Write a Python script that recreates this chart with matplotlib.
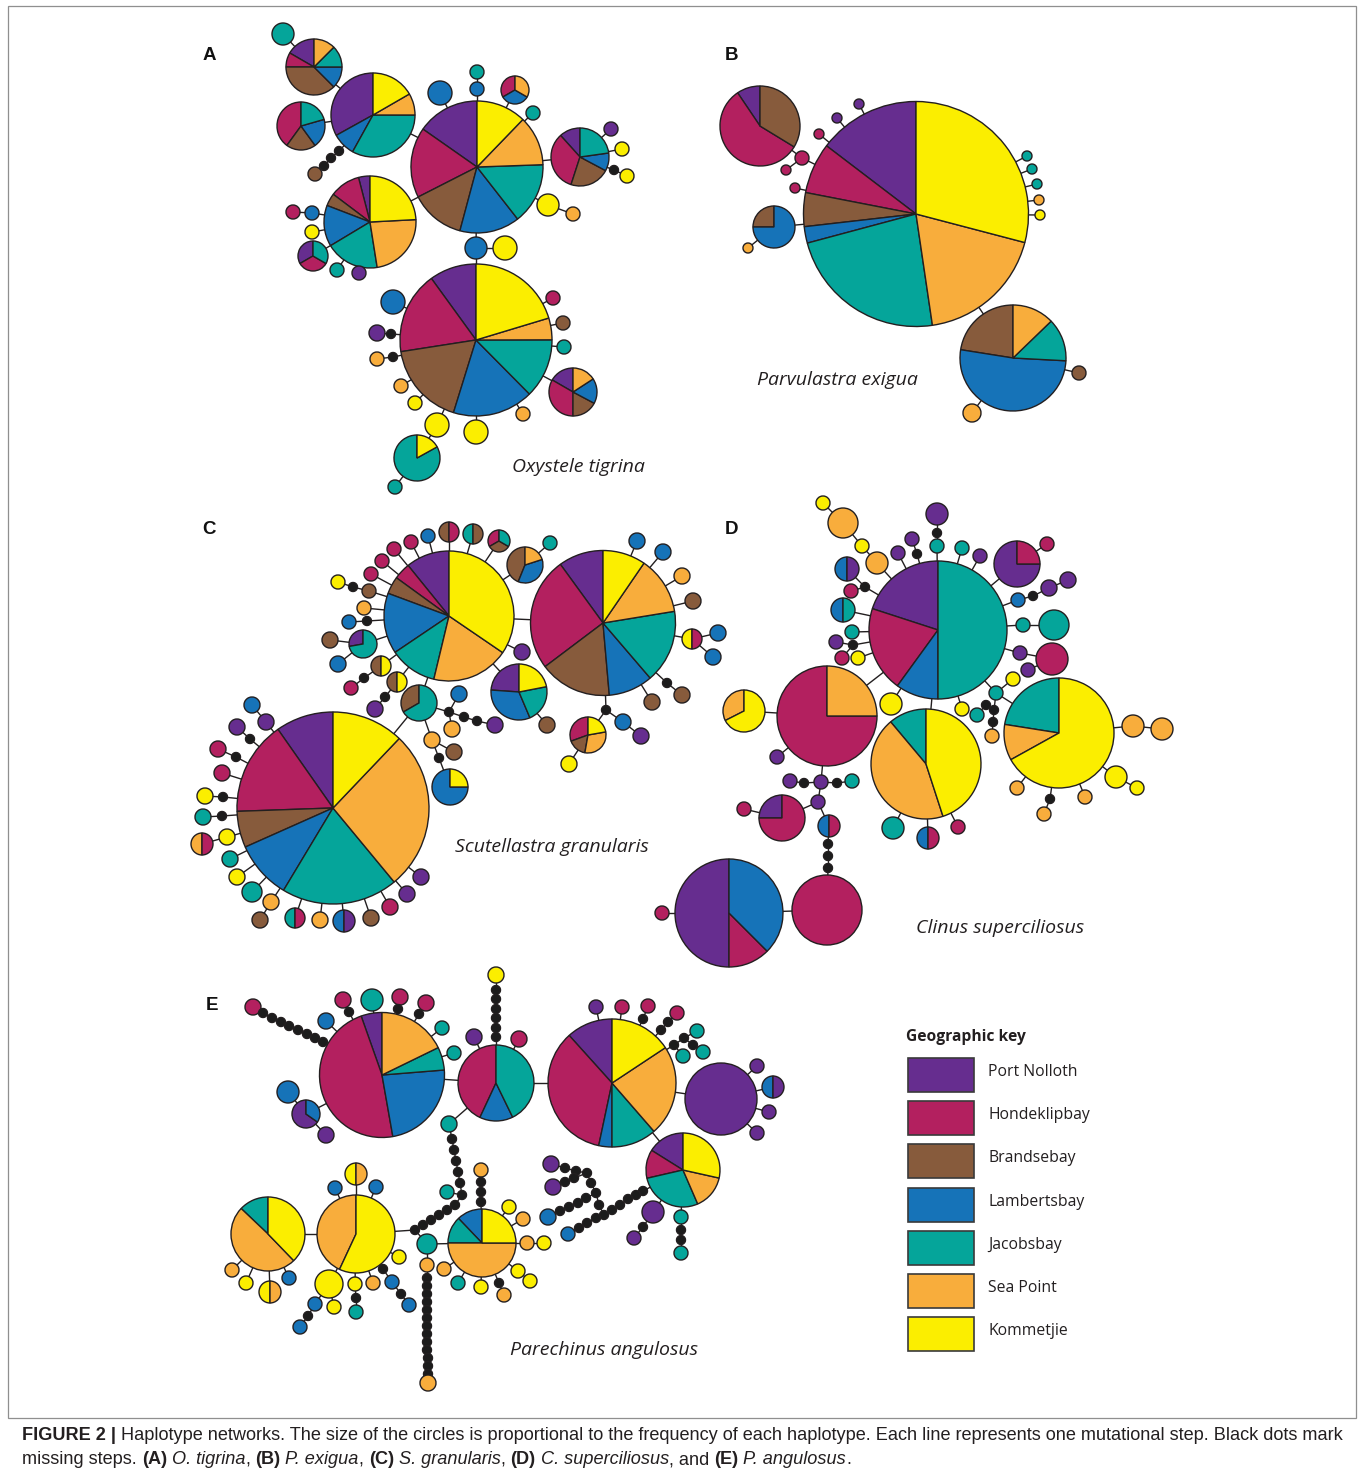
import matplotlib
matplotlib.use("Agg")
import matplotlib.pyplot as plt
from matplotlib.patches import Rectangle

W, H = 1362, 1479

# ---------------- data ----------------
sites = ["Port Nolloth", "Hondeklipbay", "Brandsebay", "Lambertsbay",
         "Jacobsbay", "Sea Point", "Kommetjie"]
site_codes = ["P", "H", "B", "L", "J", "S", "K"]
site_colors = ["#662d8f", "#b3205f", "#875b3c", "#1673b8",
               "#05a59a", "#f8ad3c", "#fbee00"]

panel_letters = ["A", "B", "C", "D", "E"]
species = ["Oxystele tigrina", "Parvulastra exigua", "Scutellastra granularis",
           "Clinus superciliosus", "Parechinus angulosus"]

# node: (x, y, radius, composition counter-clockwise from 12 o'clock; None = missing step)
A_nodes = {
    "tlt": (283, 34, 11, "J"), "tl": (314, 67, 28, "P4 H2 B9 L3 J3 S3"),
    "py": (373, 115, 42, "P119 L32 J119 S30 K60"), "l": (301, 126, 24, "H144 B72 L70 J74"),
    "c": (477, 167, 66, "P55 H62 B48 L53 J54 S44 K44"),
    "b1": (440, 93, 12, "L"), "t1": (477, 72, 7, "J"), "b2": (477, 89, 7, "L"),
    "p3": (515, 90, 14, "H1 L1 S1"), "t2": (533, 113, 7, "J"),
    "r": (580, 157, 29, "P42 H120 B80 L36 J82"),
    "rp": (611, 129, 7, "P"), "ry1": (622, 149, 7, "K"), "rd": (614, 170, 4.5, None), "ry2": (627, 176, 7, "K"),
    "y1": (548, 205, 11, "K"), "o1": (573, 214, 7, "S"),
    "br": (315, 174, 7, "B"), "d1": (324, 166, 4.5, None), "d2": (331, 158, 4.5, None), "d3": (339, 151, 4.5, None),
    "ll": (370, 222, 46, "P14.5 H38.5 B16 L52 J68 S84 K87"),
    "m1": (293, 212, 7, "H"), "b3": (312, 213, 7, "L"), "y2": (312, 232, 7, "K"),
    "s3": (313, 256, 15, "P1 H1 J1"), "t3": (337, 270, 7, "J"), "p4": (359, 273, 7, "P"),
    "b4": (476, 248, 11, "L"), "y3": (505, 248, 12, "K"),
    "low": (476, 340, 76, "P36 H63 B64 L62 J45.5 S16.7 K73.3"),
    "lm": (553, 298, 7, "H"), "lb": (563, 323, 7, "B"), "lt": (564, 347, 7, "J"),
    "ls": (573, 392, 24, "P60 H120 B62 L61 S57"),
    "lb2": (393, 302, 12, "L"), "lp": (377, 333, 8, "P"), "ld1": (391, 334, 4.5, None),
    "lo": (377, 359, 7, "S"), "ld2": (393, 357, 4.5, None),
    "lo2": (401, 386, 7, "S"), "ly": (415, 403, 7, "K"), "lo3": (523, 414, 7, "S"),
    "ly2": (437, 425, 12, "K"), "ly3": (476, 432, 12, "K"),
    "tp": (417, 458, 23, "J299 K61"), "tt": (395, 487, 7, "J"),
}
A_paths = [
    ("tlt", "tl", "py", "c"), ("l", "py"), ("br", "d1", "d2", "d3", "py"),
    ("b1", "c"), ("t1", "b2", "c"), ("p3", "c"), ("t2", "c"), ("r", "c"),
    ("rp", "r"), ("ry1", "r"), ("ry2", "rd", "r"), ("o1", "y1", "c"), ("ll", "c"),
    ("m1", "b3", "ll"), ("y2", "ll"), ("s3", "ll"), ("t3", "ll"), ("p4", "ll"),
    ("c", "b4", "low"), ("y3", "b4"),
    ("lm", "low"), ("lb", "low"), ("lt", "low"), ("ls", "low"), ("lb2", "low"),
    ("lp", "ld1", "low"), ("lo", "ld2", "low"), ("lo2", "low"), ("ly", "low"), ("lo3", "low"),
    ("tt", "tp", "ly2", "low"), ("ly3", "low"),
]

B_nodes = {
    "c": (916, 214, 112.5, "P52.7 H26.3 B17.5 L8.5 J83.4 S66.9 K104.7"),
    "tl": (760, 126, 40, "P34 H204.6 B121.4"),
    "p1": (859, 104, 5, "P"), "p2": (837, 118, 5, "P"), "m1": (819, 134, 5, "H"),
    "m2": (802, 158, 7, "H"), "m3": (786, 170, 5, "H"), "m4": (795, 188, 5, "H"),
    "bp": (774, 227, 21, "B1 L3"), "o1": (748, 248, 5, "S"),
    "t1": (1027, 156, 5, "J"), "t2": (1032, 169, 5, "J"), "t3": (1037, 184, 5, "J"),
    "o2": (1039, 200, 5, "S"), "y1": (1040, 215, 5, "K"),
    "lo": (1013, 358, 53, "B81 L186 J47 S46"),
    "lb": (1079, 373, 7, "B"), "lo2": (972, 413, 9, "S"),
}
B_paths = [
    ("tl", "m2", "c"), ("m3", "m2"), ("p1", "c"), ("p2", "c"), ("m1", "c"), ("m4", "c"),
    ("o1", "bp", "c"), ("t1", "c"), ("t2", "c"), ("t3", "c"), ("o2", "c"), ("y1", "c"),
    ("c", "lo"), ("lb", "lo"), ("lo2", "lo"),
]

C_nodes = {
    "c1": (449, 616, 65, "P39 H15 B15.6 L54.4 J42.5 S69.2 K124.3"),
    "c2": (603, 623, 72.5, "P36 H91 B58 L35.6 J58.7 S46.3 K34.4"),
    "c3": (333, 808, 96, "P35 H57 B22 L35 J70.6 S96.8 K43.6"),
    "a1": (382, 561, 7, "H"), "a2": (394, 549, 7, "H"), "a3": (411, 542, 7, "H"), "a4": (428, 536, 7, "L"),
    "a5": (449, 532, 10, "B1 H1"), "a6": (473, 534, 10, "J1 B1"), "a7": (499, 541, 11, "H1 B1 J1"),
    "a8": (525, 565, 18, "B158 L130 S72"), "a9": (550, 543, 7, "J"),
    "a10": (371, 574, 7, "H"), "a11": (338, 582, 7, "K"), "x1": (353, 587, 4.5, None), "a12": (369, 591, 7, "B"),
    "a13": (364, 608, 7, "S"), "a14": (349, 622, 7, "L"), "x2": (367, 621, 4.5, None),
    "a15": (363, 644, 14, "P100 J260"), "a16": (330, 640, 8, "B"), "a17": (338, 664, 8, "L"),
    "a18": (381, 666, 10, "B1 K1"), "x3": (364, 678, 4.5, None), "a19": (351, 688, 7, "H"),
    "a20": (397, 682, 10, "B1 K1"), "x4": (385, 697, 4.5, None), "a21": (375, 709, 8, "P"),
    "a22": (419, 703, 18, "B120 J240"),
    "a23": (459, 694, 8, "L"), "x5": (449, 712, 4.5, None), "x6": (464, 717, 4.5, None),
    "x7": (477, 721, 4.5, None), "a24": (495, 725, 8, "P"), "a25": (452, 729, 8, "S"),
    "a26": (432, 740, 8, "S"), "a27": (454, 752, 8, "B"), "x8": (439, 758, 4.5, None),
    "a28": (450, 787, 18, "L3 K1"),
    "a29": (522, 652, 8, "P"), "a30": (519, 692, 28, "P86 L117 J78 K79"), "a31": (547, 725, 8, "B"),
    "a32": (588, 735, 18, "H110 B60 S110 K80"), "x9": (606, 710, 4.5, None),
    "a33": (623, 722, 8, "L"), "a34": (641, 736, 8, "P"), "a35": (569, 764, 8, "K"),
    "b1": (637, 541, 8, "L"), "b2": (663, 552, 8, "L"), "b3": (682, 576, 8, "S"), "b4": (693, 601, 8, "B"),
    "b5": (692, 639, 10, "K1 H1"), "b6": (718, 633, 8, "L"), "b7": (713, 657, 8, "L"),
    "x10": (667, 683, 4.5, None), "b8": (682, 695, 8, "B"), "b9": (652, 702, 8, "B"),
    "e1": (252, 705, 8, "L"), "e2": (266, 722, 8, "P"),
    "e3": (237, 727, 8, "P"), "x11": (250, 739, 4.5, None),
    "e4": (218, 749, 8, "H"), "x12": (236, 757, 4.5, None), "e5": (222, 773, 8, "H"),
    "e6": (205, 796, 8, "K"), "x13": (223, 797, 4.5, None),
    "e7": (203, 817, 8, "J"), "x14": (222, 816, 4.5, None),
    "e8": (202, 844, 11, "S1 H1"), "e9": (227, 837, 8, "K"),
    "e10": (230, 859, 8, "J"), "e11": (237, 877, 8, "K"), "e12": (252, 892, 10, "J"),
    "e13": (271, 902, 8, "S"), "e14": (260, 920, 8, "B"),
    "e15": (295, 918, 10, "J1 H1"), "e16": (320, 920, 8, "S"), "e17": (344, 921, 11, "L1 P1"),
    "e18": (371, 918, 8, "B"), "e19": (390, 907, 8, "H"), "e20": (407, 894, 8, "P"), "e21": (421, 877, 8, "P"),
}
C_paths = [
    ("c1", "c2"), ("c3", "a22", "c1"),
    ("a1", "c1"), ("a2", "c1"), ("a3", "c1"), ("a4", "c1"), ("a5", "c1"), ("a6", "c1"), ("a7", "c1"),
    ("a9", "a8", "c1"), ("a10", "c1"), ("a11", "x1", "a12", "c1"), ("a13", "c1"), ("a14", "x2", "c1"),
    ("a16", "a15", "c1"), ("a17", "a15"), ("a19", "x3", "a18", "c1"), ("a21", "x4", "a20", "c1"),
    ("a22", "x5", "x6", "x7", "a24"), ("a23", "x5"), ("a25", "x5"),
    ("a22", "a26", "x8", "a28"), ("a26", "a27"),
    ("a29", "c1"), ("a30", "c1"), ("a31", "a30"),
    ("c2", "x9", "a32"), ("x9", "a33", "a34"), ("a35", "a32"),
    ("b1", "c2"), ("b2", "c2"), ("b3", "c2"), ("b4", "c2"), ("b5", "c2"), ("b6", "b5"), ("b7", "b5"),
    ("c2", "x10", "b8"), ("b9", "c2"),
    ("e1", "e2", "c3"), ("e3", "x11", "c3"), ("e4", "x12", "c3"), ("e5", "c3"), ("e6", "x13", "c3"),
    ("e7", "x14", "c3"), ("e8", "e9", "c3"), ("e10", "c3"), ("e11", "c3"), ("e12", "c3"),
    ("e14", "e13", "c3"), ("e15", "c3"), ("e16", "c3"), ("e17", "c3"), ("e18", "c3"), ("e19", "c3"),
    ("e20", "c3"), ("e21", "c3"),
]

D_nodes = {
    "d1": (938, 630, 69, "P72 H72 L36 J180"),
    "d2": (827, 716, 50, "H270 S90"),
    "d3": (926, 764, 55, "J40 S158 K162"),
    "d4": (1059, 733, 55, "J81 S38 K241"),
    "d5": (1017, 564, 23, "P270 H90"),
    "d6": (729, 913, 54, "P180 H45 L135"),
    "d7": (827, 910, 35, "H"),
    "oy": (744, 711, 21, "S117 K243"),
    "n1": (823, 503, 7, "K"), "n2": (843, 523, 15, "S"), "n3": (862, 546, 7, "K"), "n4": (877, 563, 11, "S"),
    "n5": (898, 553, 7, "P"), "n6": (912, 539, 7, "P"), "x1": (917, 554, 4.5, None),
    "n7": (937, 514, 11, "P"), "x2": (937, 533, 4.5, None), "n8": (937, 546, 7, "J"),
    "n9": (962, 548, 7, "J"), "n10": (980, 556, 7, "P"), "n11": (1047, 544, 7, "H"),
    "n12": (1068, 580, 8, "P"), "n13": (1049, 588, 8, "P"), "x3": (1033, 596, 4.5, None), "n14": (1018, 600, 7, "L"),
    "n15": (1023, 625, 7, "J"), "n16": (1054, 625, 15, "J"),
    "n17": (1020, 653, 7, "P"), "n18": (1052, 659, 16, "H"), "n19": (1028, 670, 7, "P"),
    "n20": (843, 610, 12, "L1 J1"), "n21": (847, 569, 12, "L1 P1"), "x4": (865, 587, 4.5, None),
    "n22": (851, 591, 7, "H"), "n23": (852, 632, 7, "J"),
    "n24": (836, 642, 7, "P"), "x5": (853, 645, 4.5, None), "n25": (842, 658, 7, "H"), "n26": (858, 658, 7, "K"),
    "n27": (891, 704, 11, "K"), "n28": (962, 709, 7, "K"),
    "n29": (977, 715, 7, "J"), "x6": (986, 705, 4.5, None), "x7": (994, 710, 4.5, None),
    "x8": (993, 722, 4.5, None), "n30": (992, 736, 7, "S"),
    "n31": (996, 693, 7, "J"), "n32": (1013, 679, 7, "K"),
    "n33": (1133, 726, 11, "S"), "n34": (1162, 729, 11, "S"),
    "n35": (777, 757, 7, "P"),
    "n36": (790, 781, 7, "P"), "x9": (804, 783, 4.5, None), "n37": (821, 782, 7, "P"),
    "x10": (837, 783, 4.5, None), "n38": (852, 781, 7, "J"),
    "n39": (818, 802, 7, "P"), "n40": (782, 818, 23, "P90 H270"), "n41": (744, 809, 7, "H"),
    "n42": (829, 826, 11, "L1 H1"),
    "x11": (828, 844, 4.5, None), "x12": (828, 856, 4.5, None), "x13": (828, 868, 4.5, None),
    "n43": (662, 913, 7, "H"),
    "n44": (893, 828, 11, "J"), "n45": (928, 838, 11, "L1 H1"), "n46": (958, 827, 7, "H"),
    "n47": (1017, 788, 7, "S"), "x14": (1050, 799, 4.5, None), "n48": (1044, 814, 7, "S"),
    "n49": (1085, 797, 7, "S"), "n50": (1116, 777, 11, "K"), "n51": (1137, 788, 7, "K"),
}
D_paths = [
    ("n1", "n2", "n3", "n4", "d1"), ("n5", "d1"), ("n6", "x1", "d1"), ("n7", "x2", "n8", "d1"),
    ("n9", "d1"), ("n10", "d1"), ("n11", "d5", "d1"), ("n12", "n13", "x3", "n14", "d1"),
    ("n16", "n15", "d1"), ("d1", "n17", "n18"), ("n19", "n18"),
    ("n20", "d1"), ("n21", "x4", "d1"), ("n22", "x4"), ("n23", "d1"), ("n24", "x5", "d1"), ("n25", "x5"),
    ("n26", "d1"), ("d2", "d1"), ("n27", "d1"), ("d3", "d1"), ("n28", "d1"),
    ("d1", "n31", "d4"), ("n32", "n31"), ("n31", "x7", "x8", "n30"), ("x7", "x6", "n29"),
    ("d4", "n33", "n34"), ("oy", "d2"), ("n35", "d2"),
    ("d2", "n37"), ("n36", "x9", "n37", "x10", "n38"), ("n37", "n39", "n40"), ("n41", "n40"),
    ("n39", "n42", "x11", "x12", "x13", "d7"), ("d6", "d7"), ("n43", "d6"),
    ("n44", "d3"), ("n45", "d3"), ("n46", "d3"),
    ("n47", "d4"), ("n48", "x14", "d4"), ("n49", "d4"), ("n51", "n50", "d4"),
]

E_nodes = {
    "e1": (382, 1075, 62.5, "P19.5 H170.5 L84.6 J21.4 S64"),
    "e2": (496, 1083, 38, "H155 L51 J154"),
    "e3": (612, 1083, 64, "P42 H126 L12 J41 S82.5 K56.5"),
    "e4": (721, 1099, 36, "P"),
    "e5": (683, 1170, 37, "P58 H45 J100.5 S54 K102.6"),
    "e6": (268, 1234, 37, "J46.5 S177.5 K136"),
    "e7": (356, 1234, 39, "S155 K205"),
    "e8": (482, 1243, 34, "L43.7 J46.3 S180 K90"),
    # around e1
    "m1": (253, 1007, 8, "H"),
    "k1": (263, 1013, 4.5, None), "k2": (272, 1018, 4.5, None), "k3": (281, 1022, 4.5, None),
    "k4": (289, 1026, 4.5, None), "k5": (298, 1030, 4.5, None), "k6": (307, 1034, 4.5, None),
    "k7": (315, 1038, 4.5, None), "k8": (323, 1042, 4.5, None),
    "b1": (326, 1021, 8, "L"), "m2": (343, 1000, 8, "H"), "k9": (349, 1012, 4.5, None),
    "t1": (372, 1000, 11, "J"), "m3": (400, 997, 8, "H"), "k10": (398, 1009, 4.5, None),
    "m4": (426, 1003, 8, "H"), "k11": (419, 1014, 4.5, None),
    "t2": (442, 1028, 7, "J"), "t3": (454, 1053, 7, "J"),
    "b2": (288, 1092, 11, "L"), "pb": (306, 1114, 14, "P235 L125"), "p1": (326, 1135, 8, "P"),
    # around e2
    "y1": (496, 975, 8, "K"),
    "k12": (496, 990, 4.5, None), "k13": (496, 999, 4.5, None), "k14": (496, 1009, 4.5, None),
    "k15": (496, 1018, 4.5, None), "k16": (496, 1028, 4.5, None), "k17": (496, 1037, 4.5, None),
    "p2": (474, 1037, 8, "P"), "m5": (519, 1039, 8, "H"),
    "t4": (449, 1124, 8, "J"),
    "k18": (452, 1139, 4.5, None), "k19": (454, 1150, 4.5, None), "k20": (456, 1161, 4.5, None),
    "k21": (458, 1172, 4.5, None), "k22": (460, 1183, 4.5, None), "k23": (462, 1195, 4.5, None),
    "k24": (455, 1205, 4.5, None), "k25": (447, 1210, 4.5, None), "k26": (439, 1215, 4.5, None),
    "k27": (431, 1220, 4.5, None), "k28": (423, 1225, 4.5, None), "k29": (415, 1230, 4.5, None),
    "t5": (447, 1192, 7, "J"),
    "t6": (427, 1244, 10, "J"), "o1": (427, 1265, 7, "S"),
    "k30": (427, 1278, 4.5, None), "k31": (427, 1286, 4.5, None), "k32": (427, 1294, 4.5, None),
    "k33": (427, 1302, 4.5, None), "k34": (427, 1310, 4.5, None), "k35": (427, 1318, 4.5, None),
    "k36": (427, 1326, 4.5, None), "k37": (427, 1334, 4.5, None), "k38": (427, 1342, 4.5, None),
    "k39": (427, 1350, 4.5, None), "k40": (428, 1358, 4.5, None), "k41": (428, 1366, 4.5, None),
    "k42": (428, 1374, 4.5, None),
    "o2": (428, 1383, 8, "S"),
    # around e8
    "o3": (481, 1170, 7, "S"), "k43": (481, 1182, 4.5, None), "k44": (481, 1192, 4.5, None),
    "k45": (481, 1202, 4.5, None),
    "y2": (509, 1207, 7, "K"), "o4": (523, 1219, 7, "S"), "o5": (527, 1243, 7, "S"), "y3": (544, 1243, 7, "K"),
    "o6": (444, 1269, 7, "S"), "t7": (458, 1283, 7, "J"), "y4": (481, 1287, 7, "K"),
    "k46": (499, 1283, 4.5, None), "o7": (504, 1295, 7, "S"), "y5": (518, 1271, 7, "K"), "y6": (530, 1281, 7, "K"),
    # around e6 / e7
    "o8": (232, 1270, 7, "S"), "y7": (246, 1283, 7, "K"), "hp": (270, 1292, 11, "K1 S1"), "b3": (289, 1278, 7, "L"),
    "hp2": (356, 1174, 11, "K1 S1"), "b4": (335, 1188, 7, "L"), "b5": (376, 1187, 7, "L"),
    "y8": (329, 1284, 14, "K"), "b6": (315, 1304, 7, "L"), "k47": (308, 1316, 4.5, None), "b7": (300, 1327, 7, "L"),
    "y9": (334, 1307, 7, "K"), "y10": (355, 1284, 7, "K"), "k48": (356, 1298, 4.5, None), "t8": (356, 1312, 7, "J"),
    "o9": (373, 1283, 7, "S"), "k49": (383, 1269, 4.5, None), "b8": (392, 1282, 7, "L"),
    "k50": (401, 1294, 4.5, None), "b9": (409, 1305, 7, "L"), "y11": (399, 1257, 7, "K"),
    # around e3 / e4
    "p3": (596, 1007, 7, "P"), "m6": (622, 1007, 7, "H"), "m7": (648, 1006, 7, "H"), "k51": (643, 1019, 4.5, None),
    "m8": (677, 1013, 7, "H"), "k52": (668, 1022, 4.5, None), "k53": (661, 1030, 4.5, None),
    "t9": (697, 1031, 7, "J"), "t10": (683, 1056, 7, "J"), "t11": (703, 1052, 7, "J"),
    "k54": (674, 1045, 4.5, None), "k55": (684, 1038, 4.5, None), "k56": (693, 1045, 4.5, None),
    "p4": (757, 1066, 7, "P"), "hp3": (773, 1087, 11, "L1 P1"), "p5": (769, 1112, 7, "P"), "p6": (757, 1133, 7, "P"),
    # around e5
    "p7": (653, 1212, 11, "P"), "k57": (643, 1227, 4.5, None), "p8": (634, 1238, 7, "P"),
    "t12": (681, 1217, 7, "J"), "k58": (681, 1230, 4.5, None), "k59": (681, 1240, 4.5, None), "t13": (681, 1253, 7, "J"),
    "k60": (643, 1191, 4.5, None), "k61": (636, 1195, 4.5, None), "k62": (628, 1199, 4.5, None),
    "k63": (620, 1205, 4.5, None), "k64": (612, 1210, 4.5, None), "k65": (604, 1215, 4.5, None),
    "k66": (596, 1218, 4.5, None), "k67": (587, 1223, 4.5, None), "k68": (579, 1228, 4.5, None),
    "b10": (568, 1234, 7, "L"),
    "p9": (551, 1164, 8, "P"), "k69": (565, 1168, 4.5, None), "k70": (576, 1171, 4.5, None),
    "k71": (587, 1173, 4.5, None), "k72": (591, 1183, 4.5, None), "k73": (596, 1193, 4.5, None),
    "k74": (599, 1205, 4.5, None),
    "p10": (553, 1187, 8, "P"), "k75": (565, 1182, 4.5, None), "k76": (574, 1178, 4.5, None),
    "b11": (548, 1217, 8, "L"), "k77": (560, 1211, 4.5, None), "k78": (569, 1207, 4.5, None),
    "k79": (578, 1203, 4.5, None), "k80": (586, 1198, 4.5, None),
}
E_paths = [
    ("e1", "e2", "e3", "e4"), ("e3", "e5"), ("e6", "e7"),
    ("m1", "k1", "k2", "k3", "k4", "k5", "k6", "k7", "k8", "e1"),
    ("b1", "e1"), ("m2", "k9", "e1"), ("t1", "e1"), ("m3", "k10", "e1"), ("m4", "k11", "e1"),
    ("t2", "e1"), ("t3", "e1"), ("b2", "pb", "e1"), ("p1", "pb"),
    ("y1", "k12", "k13", "k14", "k15", "k16", "k17", "e2"), ("p2", "e2"), ("m5", "e2"),
    ("e2", "t4", "k18", "k19", "k20", "k21", "k22", "k23", "k24", "k25", "k26", "k27", "k28", "k29", "e7"),
    ("t5", "k23"), ("k29", "t6", "e8"),
    ("t6", "o1", "k30", "k31", "k32", "k33", "k34", "k35", "k36", "k37", "k38", "k39", "k40", "k41", "k42", "o2"),
    ("o3", "k43", "k44", "k45", "e8"), ("y2", "e8"), ("o4", "e8"), ("y3", "o5", "e8"),
    ("o6", "e8"), ("t7", "e8"), ("y4", "e8"), ("o7", "k46", "e8"), ("y6", "y5", "e8"),
    ("o8", "e6"), ("y7", "e6"), ("hp", "e6"), ("b3", "e6"),
    ("hp2", "e7"), ("b4", "e7"), ("b5", "e7"),
    ("b7", "k47", "b6", "y8", "e7"), ("y9", "y8"), ("t8", "k48", "y10", "e7"), ("o9", "e7"),
    ("b9", "k50", "b8", "k49", "e7"), ("y11", "e7"),
    ("p3", "e3"), ("m6", "e3"), ("m7", "k51", "e3"), ("m8", "k52", "k53", "e3"),
    ("e3", "k54", "k55", "t9"), ("k54", "t10"), ("k55", "k56", "t11"),
    ("p4", "e4"), ("hp3", "e4"), ("p5", "e4"), ("p6", "e4"),
    ("p8", "k57", "p7", "e5"), ("t13", "k59", "k58", "t12", "e5"),
    ("e5", "k60", "k61", "k62", "k63", "k64", "k65", "k66", "k67", "k68", "b10"),
    ("p9", "k69", "k70", "k71", "k72", "k73", "k74", "k65"), ("p10", "k75", "k76", "k71"),
    ("b11", "k77", "k78", "k79", "k80", "k73"),
]

caption_line1 = [("FIGURE 2 |", "bold"),
                 ("Haplotype networks. The size of the circles is proportional to the frequency of each "
                  "haplotype. Each line represents one mutational step. Black dots mark", "normal")]
caption_line2 = [("missing steps.", "normal", True), ("(A)", "bold", True), ("O. tigrina", "italic", True),
                 (",", "normal", False), ("(B)", "bold", True), ("P. exigua", "italic", True),
                 (",", "normal", False), ("(C)", "bold", True), ("S. granularis", "italic", True),
                 (",", "normal", False), ("(D)", "bold", True), ("C. superciliosus", "italic", True),
                 (", and", "normal", False), ("(E)", "bold", True), ("P. angulosus", "italic", True),
                 (".", "normal", False)]

# ---------------- drawing ----------------
EDGE = "#231f20"
LW = 1.0
color_of = dict(zip(site_codes, site_colors))

fig = plt.figure(figsize=(W / 100, H / 100), dpi=100)
ax = fig.add_axes([0, 0, 1, 1])
ax.set_xlim(0, W)
ax.set_ylim(H, 0)
ax.axis("off")


def parse(comp):
    vals, cols = [], []
    for tok in comp.split():
        vals.append(float(tok[1:]) if len(tok) > 1 else 1.0)
        cols.append(color_of[tok[0]])
    return vals, cols


def draw_network(nodes, paths):
    for path in paths:
        for a, b in zip(path[:-1], path[1:]):
            xa, ya = nodes[a][:2]
            xb, yb = nodes[b][:2]
            ax.plot([xa, xb], [ya, yb], color=EDGE, lw=LW, zorder=2, solid_capstyle="butt")
    for name, (x, y, r, comp) in nodes.items():
        if comp is None:
            vals, cols = [1.0], ["#1c1c1c"]
        else:
            vals, cols = parse(comp)
        ax.pie(vals, colors=cols, startangle=-90, counterclock=False, center=(x, y), radius=r,
               frame=True, wedgeprops=dict(edgecolor=EDGE, linewidth=LW, zorder=3))


for nodes, paths in [(A_nodes, A_paths), (B_nodes, B_paths), (C_nodes, C_paths),
                     (D_nodes, D_paths), (E_nodes, E_paths)]:
    draw_network(nodes, paths)

ax.set_xlim(0, W)
ax.set_ylim(H, 0)
ax.set_aspect("auto")
ax.axis("off")

fig.canvas.draw()
renderer = fig.canvas.get_renderer()


def text_width(s, **kw):
    t = ax.text(0, 0, s, **kw)
    w = t.get_window_extent(renderer).width
    t.remove()
    return w


# panel letters
letter_pos = [(203, 55), (725, 55), (202, 530), (725, 530), (206, 1006)]
for lab, (x, y) in zip(panel_letters, letter_pos):
    ax.text(x, y, lab, fontsize=13.5, fontweight="bold", family="Liberation Sans",
            ha="left", va="center", color="#111111")

# species names
sp_font = dict(family="Open Sans", style="italic")
ref_w = text_width(species[0], fontsize=10, **sp_font)
sp_size = 10 * 133 / ref_w
species_pos = [(512, 467), (757, 380), (455, 847), (916, 928), (510, 1350)]
for name, (x, y) in zip(species, species_pos):
    ax.text(x, y, name, fontsize=sp_size, ha="left", va="center", color="#231f20", **sp_font)

# legend
key_font = "Open Sans"
tw = text_width("Geographic key", fontsize=10, family=key_font, fontweight="bold")
ax.text(906, 1037, "Geographic key", fontsize=10 * 120 / tw, family=key_font,
        fontweight="bold", ha="left", va="center", color="#231f20")
lw_ = text_width("Hondeklipbay", fontsize=10, family=key_font)
lab_size = 10 * 101 / lw_
for i, (name, col) in enumerate(zip(sites, site_colors)):
    y0 = 1058 + i * 43.2
    ax.add_patch(Rectangle((908, y0), 66, 34, facecolor=col, edgecolor="#3a3a3a", lw=1.2, zorder=3))
    ax.text(988, y0 + 14, name, fontsize=lab_size, family=key_font, ha="left", va="center",
            color="#231f20")

# frame
ax.add_patch(Rectangle((8, 6), 1348, 1412, fill=False, edgecolor="#8f8f8f", lw=0.9, zorder=1))

# caption
cap_font = "Liberation Sans"
styles = {"normal": dict(family=cap_font),
          "bold": dict(family=cap_font, fontweight="bold"),
          "italic": dict(family=cap_font, style="italic")}
w_full = text_width("FIGURE 2 | " + caption_line1[1][0], fontsize=10, family=cap_font)
cap_size = 10 * 1326 / w_full
sp_w = (text_width("a a", fontsize=cap_size, family=cap_font)
        - text_width("aa", fontsize=cap_size, family=cap_font))

x = 22
for i, (s, st) in enumerate(caption_line1):
    if i > 0:
        x += sp_w
    t = ax.text(x, 1435, s, fontsize=cap_size, ha="left", va="center", color="#231f20", **styles[st])
    x += t.get_window_extent(renderer).width
x = 22
for i, (s, st, sp) in enumerate(caption_line2):
    if i > 0 and sp:
        x += sp_w
    t = ax.text(x, 1460, s, fontsize=cap_size, ha="left", va="center", color="#231f20", **styles[st])
    x += t.get_window_extent(renderer).width

fig.savefig("out.png", dpi=100)
